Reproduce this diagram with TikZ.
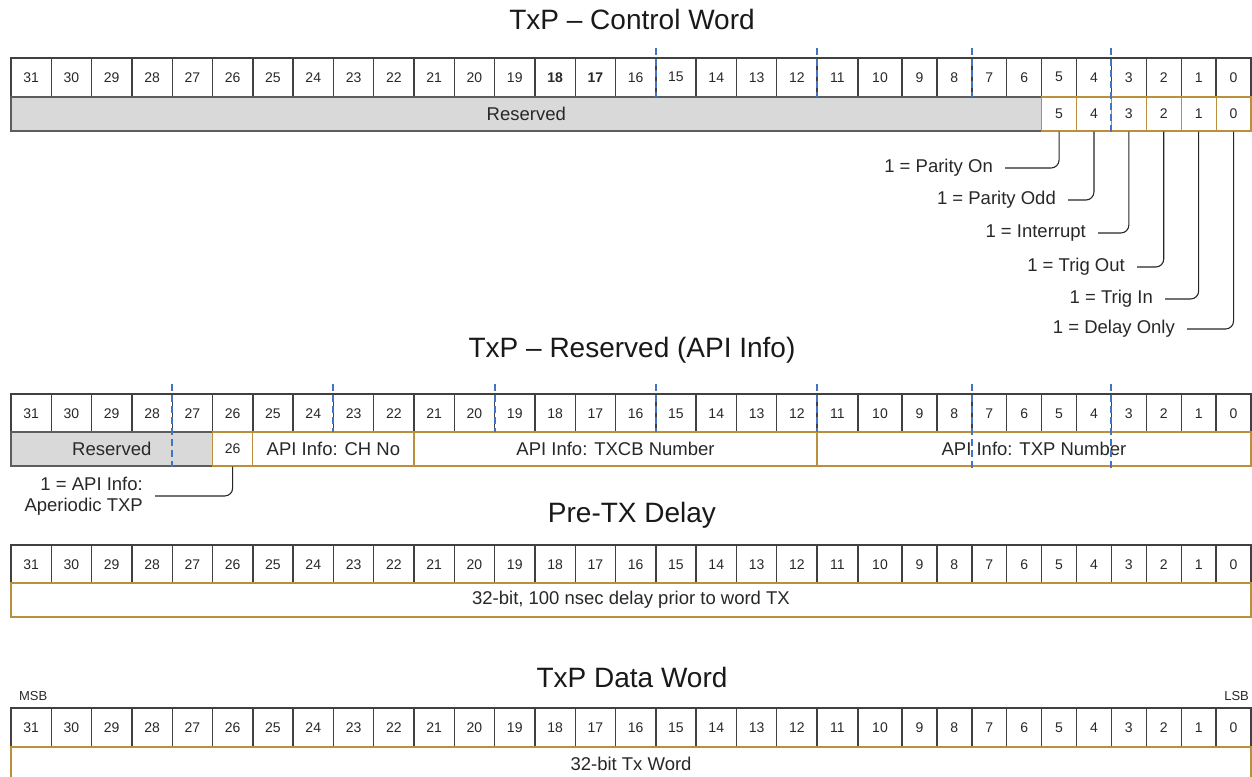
\documentclass[tikz,border=0pt]{standalone}
\usepackage{fontspec}
\setmainfont{Liberation Sans}
\usepackage{tikz}
\usetikzlibrary{positioning}
\tikzstyle{register} = [x = 1pt, y = -1pt]
\definecolor{cellColor}{RGB}{64,64,64}
\definecolor{fieldColor}{RGB}{188,143,58}
\definecolor{reservedColor}{RGB}{217,217,217}
\definecolor{markColor}{RGB}{68,114,196}
\definecolor{textColor}{RGB}{40,40,40}
\tikzstyle{cellStyle} = [draw=cellColor, fill=white, line width=1.4pt, inner sep=0pt, font=\fontsize{14}{16}\selectfont, text=textColor]
\tikzstyle{fieldStyle} = [draw=fieldColor, fill=white, line width=1.2pt, inner sep=0pt, font=\fontsize{18.5}{22}\selectfont, text=textColor]
\tikzstyle{reservedStyle} = [fieldStyle, draw=cellColor!85, fill=reservedColor]
\tikzstyle{fieldBitStyle} = [fieldStyle, font=\fontsize{14}{16}\selectfont]
\tikzstyle{titleText} = [font=\fontsize{28}{32}\selectfont, text=black!90]
\tikzstyle{noteText} = [anchor=east, inner xsep=12pt, inner ysep=0pt, font=\fontsize{18.5}{21}\selectfont, text=textColor, align=right]
\tikzstyle{noteLine} = [draw=black!85, line width=1.1pt, rounded corners=8pt]
\tikzstyle{markLine} = [draw=markColor, line width=1.5pt, dash pattern=on 7pt off 4pt]
\tikzstyle{endText} = [inner sep=0pt, font=\fontsize{13}{15}\selectfont, text=textColor]
% one row of 32 numbered cells, #3 and #4 are printed bold
\newcommand{\bitRow}[4]{
  \foreach \bit in {31,...,0} {
    \pgfmathsetmacro{\cellLeft}{bitLeft(\bit)}
    \pgfmathsetmacro{\cellRight}{bitLeft(\bit - 1)}
    \pgfmathsetmacro{\cellWidth}{\cellRight - \cellLeft}
    \node [cellStyle, minimum width = \cellWidth pt, minimum height = 38.5pt] (#1\bit) at ({(\cellLeft + \cellRight) / 2}, {#2 + 19.25}) {\ifnum\bit=#3 \bfseries\fi\ifnum\bit=#4 \bfseries\fi\bit};
  }
}
% field under the cells: name, high bit, low bit, top, style, text
\newcommand{\fieldBox}[6]{
  \pgfmathsetmacro{\fieldLeft}{bitLeft(#2)}
  \pgfmathsetmacro{\fieldRight}{bitLeft(#3 - 1)}
  \pgfmathsetmacro{\fieldWidth}{\fieldRight - \fieldLeft}
  \node [#5, minimum width = \fieldWidth pt, minimum height = 34pt] (#1) at ({(\fieldLeft + \fieldRight) / 2}, {#4 + 17}) {#6};
}
\newcommand{\boundaryMark}[3]{\draw [markLine] ({round(bitLeft(#1))}, #2) -- ({round(bitLeft(#1))}, #3);}

\begin{document}
\begin{tikzpicture}[register, declare function={bitLeft(\b) = ifthenelse(\b > 11, 11 + (31 - \b) * 40.3, ifthenelse(\b > 10, 817, ifthenelse(\b > 9, 858, 902 + (9 - \b) * 34.9)));}]
  \useasboundingbox (0,0) rectangle (1252,776);
  \clip (0,0) rectangle (1252,776);

  % control word
  \node [titleText] (cwTitle) at (632, 19) {TxP -- Control Word};
  \bitRow{cw}{58}{18}{17}
  \fieldBox{cwRes}{31}{6}{97}{reservedStyle}{Reserved}
  \foreach \bit in {5,...,0} {
    \fieldBox{cwf\bit}{\bit}{\bit}{97}{fieldBitStyle}{\bit}
  }
  \node [noteText] (parityOn) at (1005, 168) {1 = Parity On};
  \node [noteText] (parityOdd) at (1068, 200) {1 = Parity Odd};
  \node [noteText] (interrupt) at (1098, 233) {1 = Interrupt};
  \node [noteText] (trigOut) at (1137, 267) {1 = Trig Out};
  \node [noteText] (trigIn) at (1165, 299) {1 = Trig In};
  \node [noteText] (delayOnly) at (1187, 329) {1 = Delay Only};
  \draw [noteLine] (cwf5.south) |- (parityOn.east);
  \draw [noteLine] (cwf4.south) |- (parityOdd.east);
  \draw [noteLine] (cwf3.south) |- (interrupt.east);
  \draw [noteLine] (cwf2.south) |- (trigOut.east);
  \draw [noteLine] (cwf1.south) |- (trigIn.east);
  \draw [noteLine] (cwf0.south) |- (delayOnly.east);
  \foreach \bit in {15, 11, 7} {
    \boundaryMark{\bit}{48}{97}
  }
  \boundaryMark{3}{48}{133}

  % reserved (api info)
  \node [titleText] (apiTitle) at (632, 350) {TxP -- Reserved (API Info)};
  \bitRow{ai}{394}{-5}{-5}
  \fieldBox{aiRes}{31}{27}{432}{reservedStyle}{Reserved}
  \fieldBox{aif26}{26}{26}{432}{fieldBitStyle}{26}
  \fieldBox{aiChNo}{25}{22}{432}{fieldStyle}{API Info: CH No}
  \fieldBox{aiTxcb}{21}{12}{432}{fieldStyle}{API Info: TXCB Number}
  \fieldBox{aiTxp}{11}{0}{432}{fieldStyle}{API Info: TXP Number}
  \node [noteText] (aperiodic) at (155, 496) {1 = API Info:\\Aperiodic TXP};
  \draw [noteLine] (aif26.south) |- (aperiodic.east);
  \boundaryMark{27}{384}{467}
  \foreach \bit in {23, 19, 15, 11} {
    \boundaryMark{\bit}{384}{432}
  }
  \boundaryMark{7}{384}{468}
  \boundaryMark{3}{384}{468}

  % pre-tx delay
  \node [titleText] (delayTitle) at (632, 515) {Pre-TX Delay};
  \bitRow{pd}{545}{-5}{-5}
  \fieldBox{pdWord}{31}{0}{583}{fieldStyle}{32-bit, 100 nsec delay prior to word TX}

  % data word
  \node [titleText] (dataTitle) at (632, 677) {TxP Data Word};
  \bitRow{dw}{708}{-5}{-5}
  \fieldBox{dwWord}{31}{0}{747}{fieldStyle}{32-bit Tx Word}
  \node [endText, above = 6pt of dw31, xshift = 2pt] (msb) {MSB};
  \node [endText, above = 6pt of dw0, xshift = 3pt] (lsb) {LSB};
\end{tikzpicture}
\end{document}
